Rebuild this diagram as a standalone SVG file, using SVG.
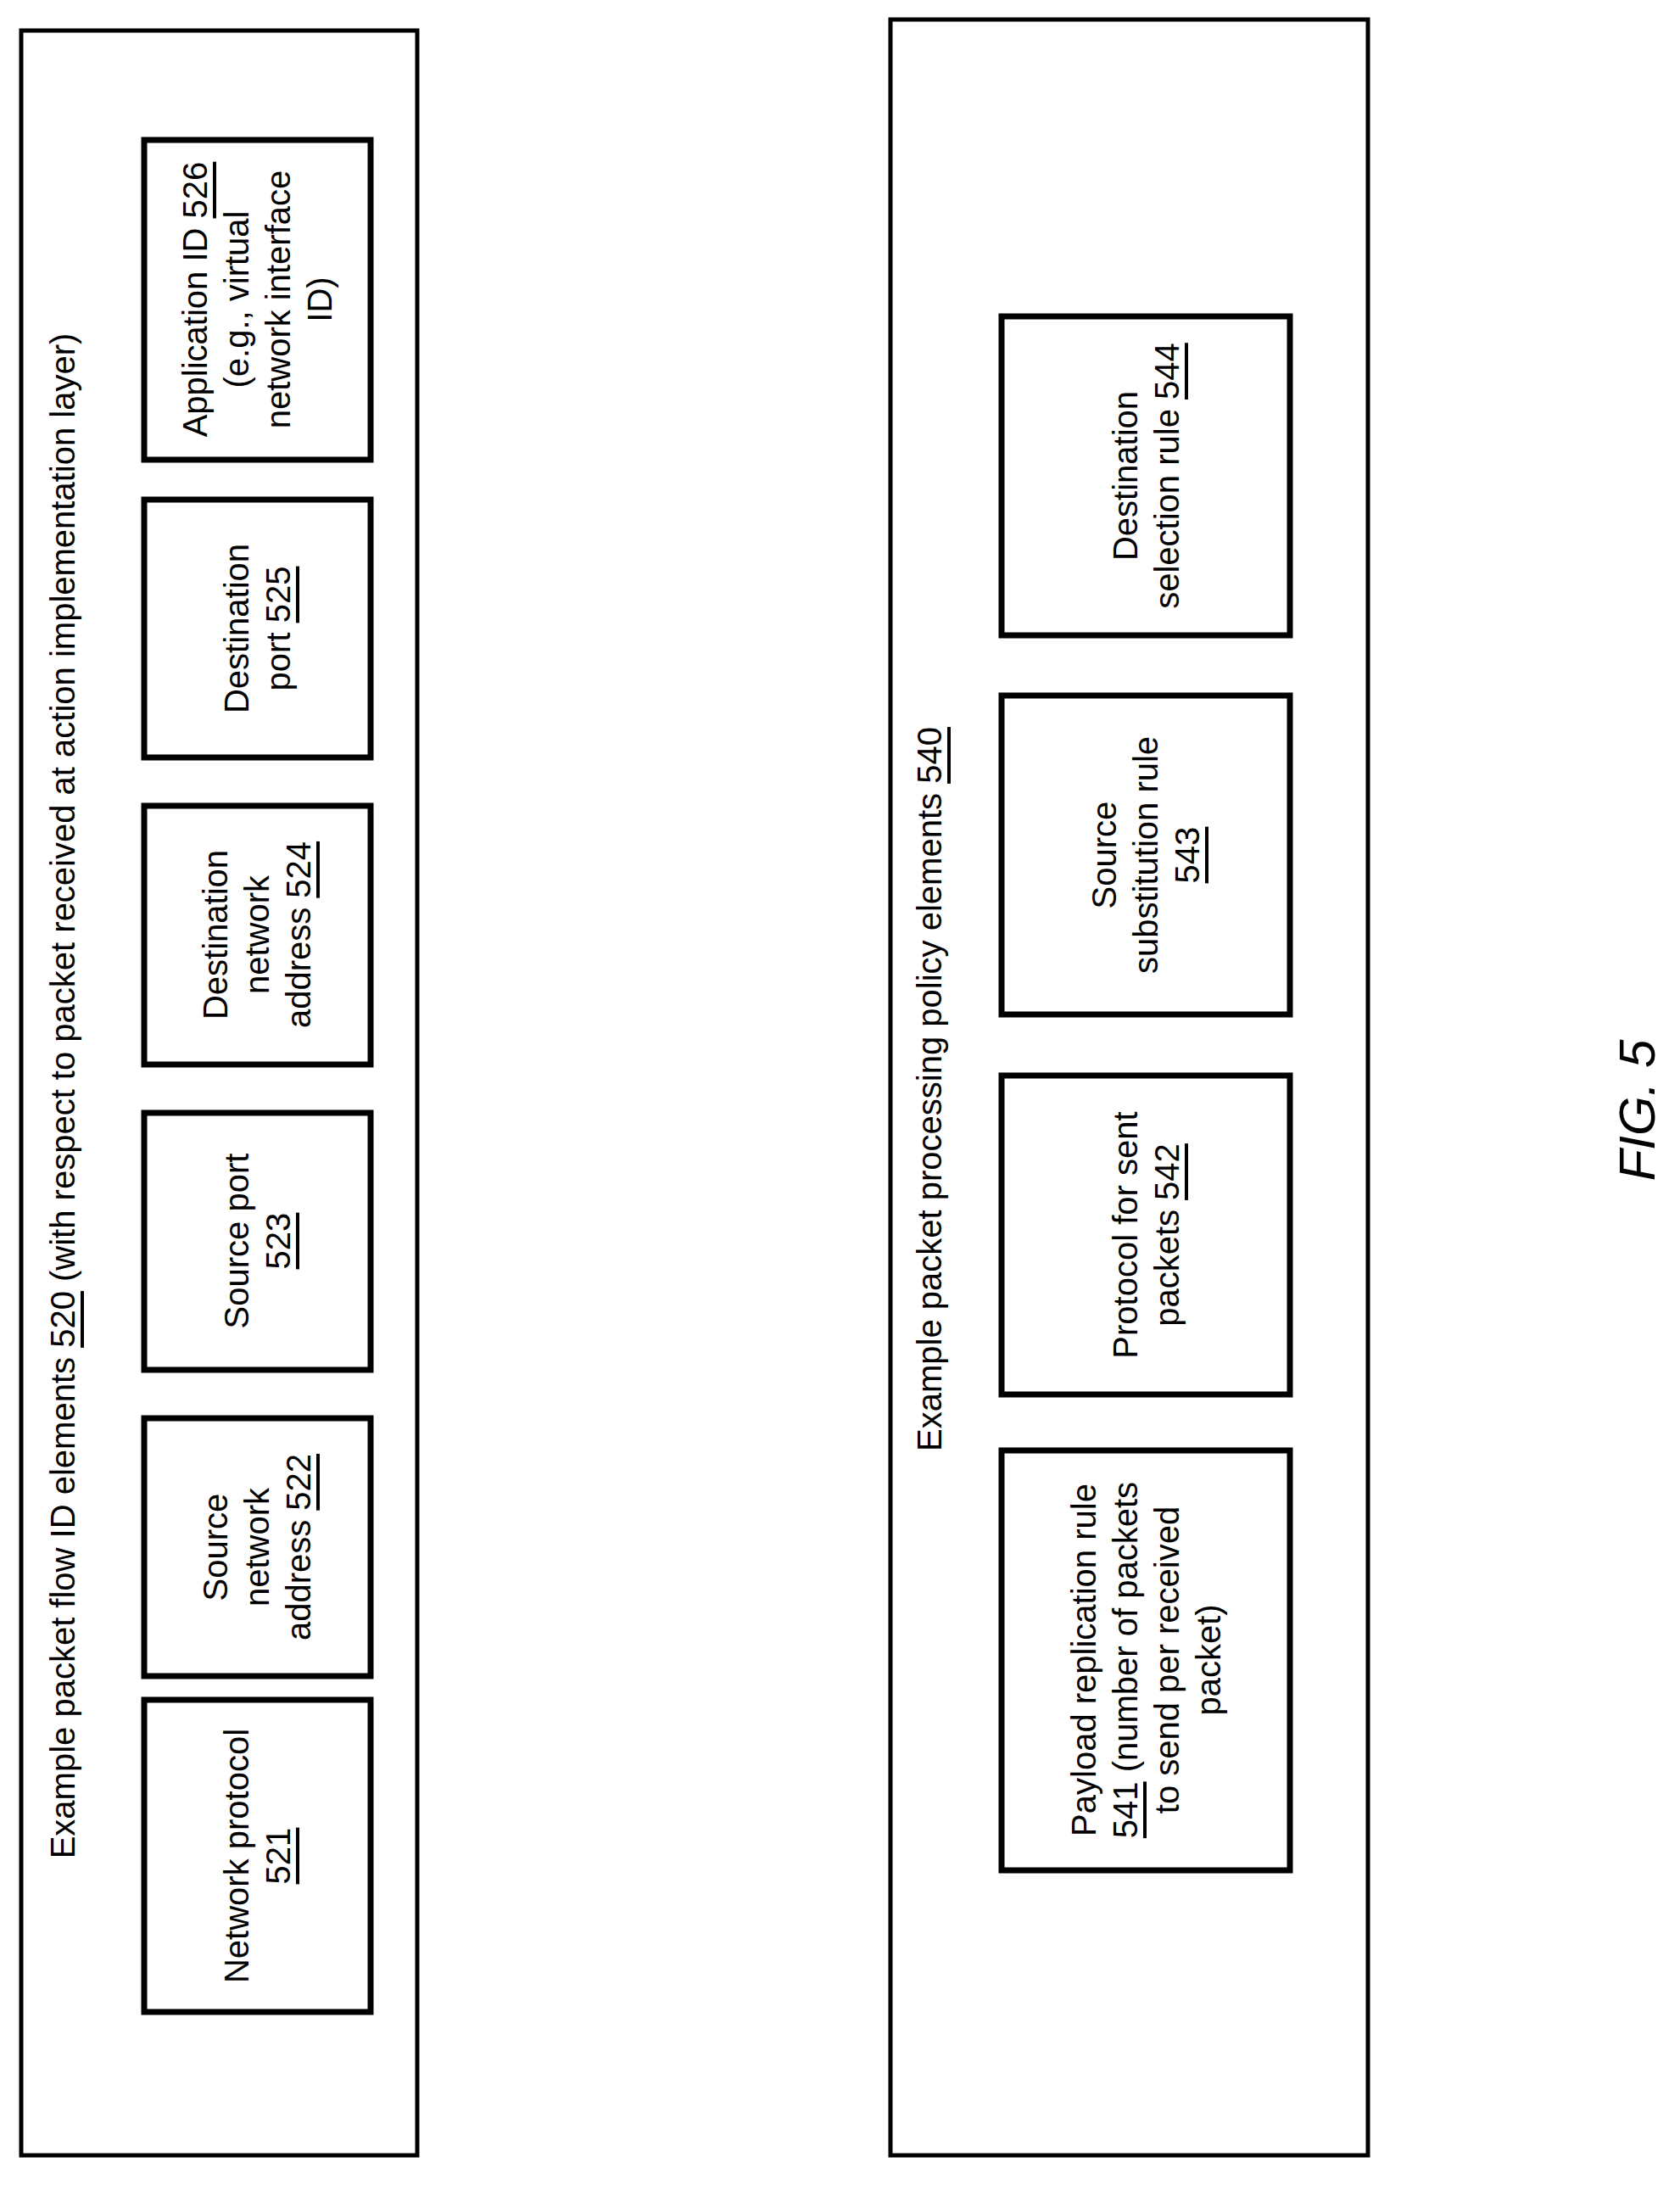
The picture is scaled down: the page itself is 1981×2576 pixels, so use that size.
<svg xmlns="http://www.w3.org/2000/svg" width="1981" height="2576" viewBox="0 0 1981 2576">
<style>
.o{fill:none;stroke:#000;stroke-width:5}
.b{fill:#fff;stroke:#000;stroke-width:7}
text{font-family:"Liberation Sans Narrow","Liberation Sans",Arial,sans-serif;font-size:40px;text-anchor:middle;dominant-baseline:central;fill:#000}
.u{text-decoration:underline}
</style>
<rect width="1981" height="2576" fill="#fff"/>
<g id="group520">
<rect class="o" x="25" y="36" width="467" height="2505"/>
<text transform="translate(74,1292) rotate(-90)">Example packet flow ID elements <tspan class="u">520</tspan> (with respect to packet received at action implementation layer)</text>
</g>
<g id="n521"><rect class="b" x="170" y="2004" width="267" height="368"/>
<text transform="translate(303,2188) rotate(-90)"><tspan x="0" y="-24">Network protocol</tspan><tspan x="0" y="25" class="u">521</tspan></text></g>
<g id="n522"><rect class="b" x="170" y="1672" width="267" height="304"/>
<text transform="translate(303,1824) rotate(-90)"><tspan x="0" y="-49">Source</tspan><tspan x="0" y="0">network</tspan><tspan x="0" y="49">address <tspan class="u">522</tspan></tspan></text></g>
<g id="n523"><rect class="b" x="170" y="1312" width="267" height="303"/>
<text transform="translate(303,1463) rotate(-90)"><tspan x="0" y="-24">Source port</tspan><tspan x="0" y="25" class="u">523</tspan></text></g>
<g id="n524"><rect class="b" x="170" y="950" width="267" height="305"/>
<text transform="translate(303,1102) rotate(-90)"><tspan x="0" y="-49">Destination</tspan><tspan x="0" y="0">network</tspan><tspan x="0" y="49">address <tspan class="u">524</tspan></tspan></text></g>
<g id="n525"><rect class="b" x="170" y="589" width="267" height="304"/>
<text transform="translate(303,741) rotate(-90)"><tspan x="0" y="-24">Destination</tspan><tspan x="0" y="25">port <tspan class="u">525</tspan></tspan></text></g>
<g id="n526"><rect class="b" x="170" y="165" width="267" height="377"/>
<text transform="translate(303,353) rotate(-90)"><tspan x="0" y="-73">Application ID <tspan class="u">526</tspan></tspan><tspan x="0" y="-24">(e.g., virtual</tspan><tspan x="0" y="25">network interface</tspan><tspan x="0" y="74">ID)</tspan></text></g>
<g id="group540">
<rect class="o" x="1050" y="23" width="563" height="2518"/>
<text transform="translate(1096,1284) rotate(-90)">Example packet processing policy elements <tspan class="u">540</tspan></text>
</g>
<g id="n541"><rect class="b" x="1181" y="1710" width="340" height="495"/>
<text transform="translate(1351,1957) rotate(-90)"><tspan x="0" y="-73">Payload replication rule</tspan><tspan x="0" y="-24"><tspan class="u">541</tspan> (number of packets</tspan><tspan x="0" y="25">to send per received</tspan><tspan x="0" y="74">packet)</tspan></text></g>
<g id="n542"><rect class="b" x="1181" y="1268" width="340" height="376"/>
<text transform="translate(1351,1456) rotate(-90)"><tspan x="0" y="-24">Protocol for sent</tspan><tspan x="0" y="25">packets  <tspan class="u">542</tspan></tspan></text></g>
<g id="n543"><rect class="b" x="1181" y="820" width="340" height="376"/>
<text transform="translate(1351,1008) rotate(-90)"><tspan x="0" y="-49">Source</tspan><tspan x="0" y="0">substitution rule</tspan><tspan x="0" y="49" class="u">543</tspan></text></g>
<g id="n544"><rect class="b" x="1181" y="373" width="340" height="376"/>
<text transform="translate(1351,561) rotate(-90)"><tspan x="0" y="-24">Destination</tspan><tspan x="0" y="25">selection rule <tspan class="u">544</tspan></tspan></text></g>
<g id="connectors"></g>
<text transform="translate(1930,1309) rotate(-90)" style="font-size:60px;font-style:italic;font-family:'Liberation Sans',Arial,sans-serif">FIG. 5</text>
</svg>
